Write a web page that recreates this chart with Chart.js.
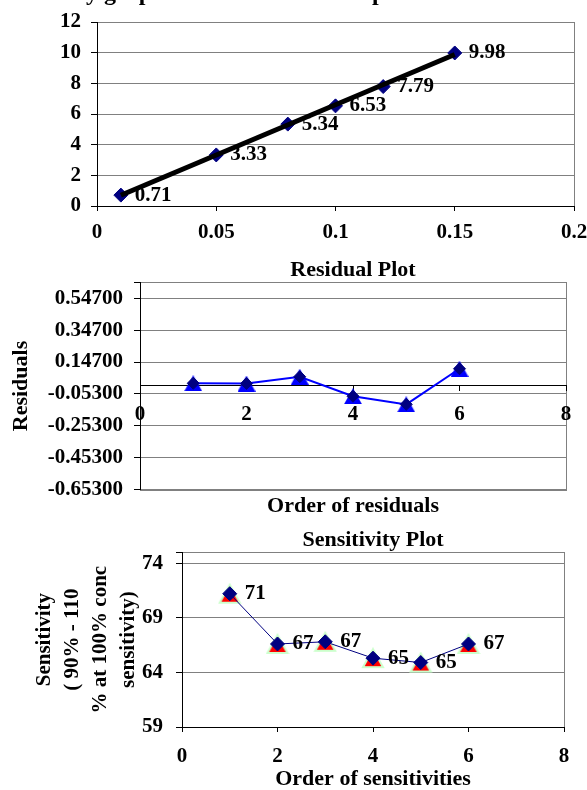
<!DOCTYPE html>
<html>
<head>
<meta charset="utf-8">
<script src="https://cdn.jsdelivr.net/npm/chart.js@4.4.1/dist/chart.umd.min.js"></script>
<style>
  html, body { margin: 0; padding: 0; background: #fff; overflow: hidden; width: 587px; height: 790px; }
  canvas { position: absolute; left: 0; }
</style>
</head>
<body>
<canvas id="c1" width="587" height="250" style="top:0px"></canvas>
<canvas id="c2" width="587" height="270" style="top:250px"></canvas>
<canvas id="c3" width="587" height="270" style="top:520px"></canvas>
<script>
// ---------------- DATA ----------------
const concentration = [0.01, 0.05, 0.08, 0.10, 0.12, 0.15];
const response      = [0.71, 3.33, 5.34, 6.53, 7.79, 9.98];
const trendX        = [0.01, 0.15];
const trendY        = [0.70, 9.88];

const residualOrder = [1, 2, 3, 4, 5, 6];
const residuals     = [0.014, 0.012, 0.055, -0.067, -0.118, 0.105];
const residualTicks = [-0.653, -0.453, -0.253, -0.053, 0.147, 0.347, 0.547, 0.647];

const sensitivityOrder = [1, 2, 3, 4, 5, 6];
const sensitivity      = [71.2, 66.6, 66.8, 65.3, 64.9, 66.6];
const sensitivityTicks = [59, 64, 69, 74, 75];

const topTitle = 'Linearity graph of concentration vs peak area';
const residualTitle = 'Residual Plot';
const residualXTitle = 'Order of residuals';
const residualYTitle = 'Residuals';
const sensTitle = 'Sensitivity Plot';
const sensXTitle = 'Order of sensitivities';
const sensYTitle = ['Sensitivity', '( 90% - 110', '% at 100% conc', 'sensitivity)'];

// ---------------- STYLE HELPERS ----------------
const FONT = 'Liberation Serif';
Chart.defaults.font.family = FONT;
Chart.defaults.font.weight = 'bold';
Chart.defaults.font.size = 21;
Chart.defaults.color = '#000';

const NAVY = '#000080';
const GRID = '#808080';

function pts(xs, ys) { return xs.map((x, i) => ({ x: x, y: ys[i] })); }

function triangleImage(w, h, fill, stroke, lw) {
  const c = document.createElement('canvas');
  c.width = w + 2 * lw; c.height = h + 2 * lw;
  const g = c.getContext('2d');
  g.beginPath();
  g.moveTo(c.width / 2, lw);
  g.lineTo(c.width - lw, lw + h);
  g.lineTo(lw, lw + h);
  g.closePath();
  g.fillStyle = fill; g.fill();
  if (lw > 0) { g.lineWidth = lw; g.strokeStyle = stroke; g.stroke(); }
  return c;
}

const frame = {
  id: 'frame',
  beforeDraw(chart) {
    const a = chart.chartArea, ctx = chart.ctx;
    ctx.save();
    ctx.strokeStyle = GRID; ctx.lineWidth = 1;
    ctx.strokeRect(Math.round(a.left) + 0.5, Math.round(a.top) + 0.5,
                   Math.round(a.right - a.left), Math.round(a.bottom - a.top));
    ctx.restore();
  }
};

const valueLabels = {
  id: 'valueLabels',
  afterDatasetsDraw(chart, args, opts) {
    if (opts.datasetIndex === undefined) return;
    const ctx = chart.ctx;
    const ds = chart.data.datasets[opts.datasetIndex];
    const meta = chart.getDatasetMeta(opts.datasetIndex);
    ctx.save();
    ctx.font = 'bold 21px "' + FONT + '"';
    ctx.fillStyle = '#000';
    ctx.textAlign = 'left';
    ctx.textBaseline = 'middle';
    meta.data.forEach((el, i) => {
      ctx.fillText(opts.format(ds.data[i].y), el.x + opts.offset, el.y);
    });
    ctx.restore();
  }
};

const clippedTitle = {
  id: 'clippedTitle',
  afterDraw(chart, args, opts) {
    if (!opts.text) return;
    const ctx = chart.ctx;
    ctx.save();
    ctx.font = 'bold 24px "' + FONT + '"';
    ctx.fillStyle = '#000';
    ctx.textAlign = 'left';
    ctx.textBaseline = 'alphabetic';
    ctx.fillText(opts.text, 2, 0);
    ctx.restore();
  }
};

function fixedTicks(list) {
  return function (scale) { scale.ticks = list.map(v => ({ value: v })); };
}
function noPad(s) { s.paddingLeft = 0; s.paddingRight = 0; s.paddingTop = 0; s.paddingBottom = 0; }

// ---------------- CHART 1 ----------------
new Chart(document.getElementById('c1'), {
  type: 'scatter',
  data: {
    datasets: [
      {
        type: 'line',
        data: pts(trendX, trendY),
        borderColor: '#000', borderWidth: 5,
        pointRadius: 0, fill: false
      },
      {
        data: pts(concentration, response),
        pointStyle: 'rectRot', pointRadius: 7,
        backgroundColor: NAVY, borderColor: NAVY, borderWidth: 1,
        showLine: false
      }
    ]
  },
  options: {
    responsive: false, animation: false,
    layout: { padding: { top: 22, right: 13, left: 0, bottom: 0 } },
    plugins: {
      legend: { display: false }, tooltip: { enabled: false },
      valueLabels: { datasetIndex: 1, offset: 14, format: v => v.toFixed(2) },
      clippedTitle: { text: topTitle }
    },
    scales: {
      x: {
        type: 'linear', min: 0, max: 0.2,
        ticks: { stepSize: 0.05, padding: 9, maxRotation: 0, callback: v => String(parseFloat(v.toFixed(2))) },
        grid: { drawOnChartArea: false, tickLength: 5, tickColor: '#000' },
        border: { color: '#000', width: 1 },
        afterFit(s) { s.height = 44; noPad(s); }
      },
      y: {
        min: 0, max: 12,
        ticks: { stepSize: 2, padding: 10 },
        grid: { color: GRID, tickColor: '#000', tickLength: 6 },
        border: { color: '#000', width: 1 },
        afterFit(s) { s.width = 97; noPad(s); }
      }
    }
  },
  plugins: [frame, valueLabels, clippedTitle]
});

// ---------------- CHART 2 ----------------
const blueTri = triangleImage(18, 16, '#0000FF', '#0000FF', 0);
new Chart(document.getElementById('c2'), {
  type: 'scatter',
  data: {
    datasets: [
      {
        data: pts(residualOrder, residuals),
        pointStyle: 'rectRot', pointRadius: 6,
        backgroundColor: NAVY, borderColor: NAVY, borderWidth: 1,
        showLine: false
      },
      {
        data: pts(residualOrder, residuals),
        pointStyle: blueTri, pointRadius: 9,
        borderColor: '#0000FF', borderWidth: 2,
        showLine: true, fill: false
      }
    ]
  },
  options: {
    responsive: false, animation: false,
    layout: { padding: { top: 0, right: 21, left: 0, bottom: 0 } },
    plugins: {
      legend: { display: false }, tooltip: { enabled: false },
      title: { display: true, text: residualTitle, fullSize: false,
               font: { size: 22, lineHeight: 1.1 }, padding: { top: 8, bottom: 0 } },
      subtitle: { display: true, text: residualXTitle, position: 'bottom', fullSize: false,
                  font: { size: 22, weight: 'bold', lineHeight: 1.1 }, color: '#000', padding: { top: 4, bottom: 2 } }
    },
    scales: {
      x: {
        type: 'linear', min: 0, max: 8, position: { y: 0 },
        ticks: { stepSize: 2, padding: 11, maxRotation: 0 },
        grid: { drawOnChartArea: false, tickLength: 5, tickColor: '#000' },
        border: { color: '#000', width: 1 },
        afterFit(s) { noPad(s); }
      },
      y: {
        min: -0.653, max: 0.647,
        afterBuildTicks: fixedTicks(residualTicks),
        ticks: { padding: 11, callback: v => (v === residualTicks[residualTicks.length - 1] ? '' : v.toFixed(5)) },
        grid: { color: GRID, tickColor: '#000', tickLength: 6 },
        border: { color: '#000', width: 1 },
        title: { display: true, text: residualYTitle, font: { size: 22 }, padding: { top: 8, bottom: 0 } },
        afterFit(s) { s.width = 140; noPad(s); }
      }
    }
  },
  plugins: [frame]
});

// ---------------- CHART 3 ----------------
const redTri = triangleImage(20, 18, '#FF0000', '#CCFFCC', 2);
new Chart(document.getElementById('c3'), {
  type: 'scatter',
  data: {
    datasets: [
      {
        data: pts(sensitivityOrder, sensitivity),
        pointStyle: 'rectRot', pointRadius: 7,
        backgroundColor: NAVY, borderColor: NAVY, borderWidth: 1,
        showLine: true, fill: false
      },
      {
        data: pts(sensitivityOrder, sensitivity),
        pointStyle: redTri, pointRadius: 9,
        showLine: false
      }
    ]
  },
  options: {
    responsive: false, animation: false,
    layout: { padding: { top: 0, right: 23, left: 0, bottom: 0 } },
    plugins: {
      legend: { display: false }, tooltip: { enabled: false },
      title: { display: true, text: sensTitle, fullSize: false,
               font: { size: 22, lineHeight: 1.1 }, padding: { top: 8, bottom: 0 } },
      valueLabels: { datasetIndex: 0, offset: 15, format: v => String(Math.round(v)) }
    },
    scales: {
      x: {
        type: 'linear', min: 0, max: 8,
        ticks: { stepSize: 2, padding: 12, maxRotation: 0 },
        grid: { drawOnChartArea: false, tickLength: 5, tickColor: '#000' },
        border: { color: '#000', width: 1 },
        title: { display: true, text: sensXTitle, font: { size: 22, lineHeight: 1 }, padding: 0 },
        afterFit(s) { s.height = 63; noPad(s); }
      },
      y: {
        min: 59, max: 75,
        afterBuildTicks: fixedTicks(sensitivityTicks),
        ticks: { padding: 13, callback: v => (v === sensitivityTicks[sensitivityTicks.length - 1] ? '' : String(v)) },
        grid: { color: GRID, tickColor: '#000', tickLength: 6 },
        border: { color: '#000', width: 1 },
        title: { display: true, text: sensYTitle, font: { size: 21, lineHeight: 1.33 }, padding: { top: 31, bottom: 0 } },
        afterFit(s) { s.width = 182; noPad(s); }
      }
    }
  },
  plugins: [frame, valueLabels]
});
</script>
</body>
</html>
